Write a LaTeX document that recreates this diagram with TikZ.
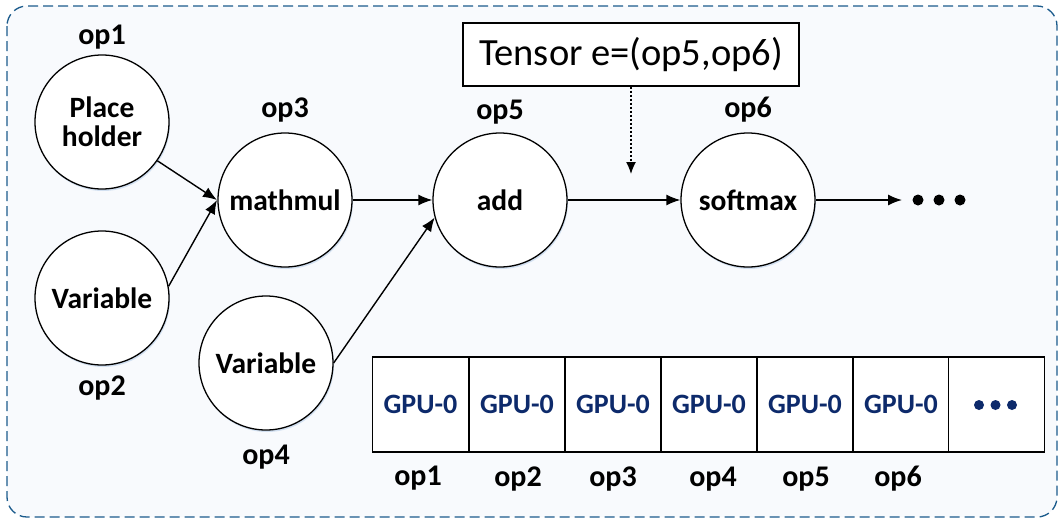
\documentclass[tikz,border=0pt]{standalone}
\usepackage{fontspec}
\setmainfont{Carlito}
\usetikzlibrary{arrows.meta,shadows}
\definecolor{frameblue}{HTML}{1B5B8C}
\definecolor{panel}{HTML}{F8FAFD}
\definecolor{navy}{HTML}{0D2A6B}
\definecolor{halo}{HTML}{C9DAEE}
\tikzset{
  opnode/.style={circle, draw=black, line width=1.3pt, fill=white, minimum size=134pt, inner sep=0pt,
    font=\fontsize{29.5}{32}\selectfont\bfseries, align=center,
    drop shadow={shadow xshift=1pt, shadow yshift=-2pt, fill=halo, opacity=0.8}},
  oplabel/.style={font=\fontsize{30}{32}\selectfont\bfseries, inner sep=0pt},
  cell/.style={draw=black, line width=1.3pt, fill=white, minimum width=96pt, minimum height=95pt, inner sep=0pt,
    font=\fontsize{28}{30}\selectfont\bfseries, text=navy},
  flow/.style={line width=1.4pt, -{Latex[length=14pt,width=11pt]}},
  dotmark/.style={circle, fill=#1, inner sep=0pt, minimum size=11pt}
}
\begin{document}
\begin{tikzpicture}[x=1pt,y=-1pt]
\useasboundingbox (0,0) rectangle (1060,520);
% outer frame
\draw[frameblue, line width=1.3pt, dash pattern=on 10pt off 5pt, fill=panel, rounded corners=20pt]
  (7,6) rectangle (1057,517);

% operation nodes
\node[opnode] (ph) at (102,122) {Place\\[-3pt]holder};
\node[opnode] (v1) at (102,298) {Variable};
\node[opnode] (mm) at (285,200) {mathmul};
\node[opnode] (v2) at (266,363) {Variable};
\node[opnode] (ad) at (500,200) {add};
\node[opnode] (sm) at (748,200) {softmax};

% operation names
\node[oplabel] (l1) at (102,37) {op1};
\node[oplabel] (l2) at (102,388) {op2};
\node[oplabel] (l3) at (285,110) {op3};
\node[oplabel] (l4) at (266,457) {op4};
\node[oplabel] (l5) at (500,112) {op5};
\node[oplabel] (l6) at (748,110) {op6};

% tensor annotation
\node[draw=black, line width=1.3pt, fill=white, minimum width=336pt, minimum height=63pt, inner sep=0pt,
  font=\fontsize{38.5}{42}\selectfont] (tn) at (631,54.5) {Tensor e=(op5,op6)};
\coordinate (tip) at (631,174);

% edges
\coordinate (mmin) at (217,200);
\draw[flow] (ph.-35) -- (mmin);
\draw[flow] (v1.10) -- (mmin);
\draw[flow] (mm) -- (ad);
\draw[flow] (v2.0) -- (ad.-165);
\draw[flow] (ad) -- (sm);
\draw[line width=1.3pt, dash pattern=on 2pt off 2pt, -{Latex[length=12pt,width=10pt]}] (tn.south -| tip) -- (tip);

% continuation
\coordinate (more) at (902,200);
\draw[flow] (sm) -- (more);
\node[dotmark=black] (d1) at (918,200) {};
\node[dotmark=black] (d2) at (939,200) {};
\node[dotmark=black] (d3) at (960,200) {};

% placement table
\foreach \i/\x in {1/420.5,2/517,3/613,4/709,5/805,6/901}{
  \node[cell] (c\i) at (\x,404.5) {GPU-0};
}
\node[cell] (c7) at (996.5,404.5) {};
\node[dotmark=navy, minimum size=10pt] (e1) at (979,405) {};
\node[dotmark=navy, minimum size=10pt] (e2) at (995.5,405) {};
\node[dotmark=navy, minimum size=10pt] (e3) at (1012,405) {};

% table column names
\node[oplabel] (t1) at (418,478) {op1};
\node[oplabel] (t2) at (518,479) {op2};
\node[oplabel] (t3) at (613,479) {op3};
\node[oplabel] (t4) at (713,479) {op4};
\node[oplabel] (t5) at (806,479) {op5};
\node[oplabel] (t6) at (898,479) {op6};
\end{tikzpicture}
\end{document}
